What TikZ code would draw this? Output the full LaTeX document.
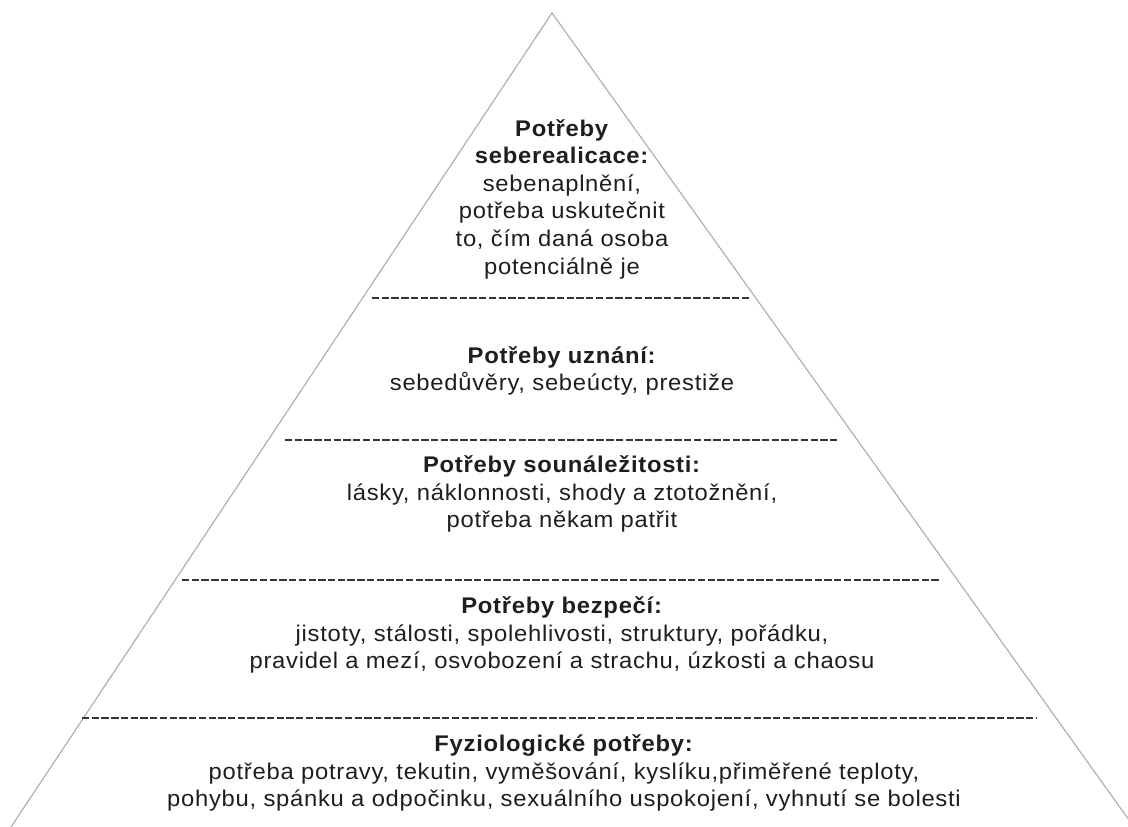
\documentclass[tikz,border=0pt]{standalone}
\usepackage{fontspec}
\setmainfont[FakeStretch=1.05,LetterSpace=3.2]{Liberation Sans}
\definecolor{inkgray}{HTML}{1E1E1E}
\definecolor{edgegray}{HTML}{A8A8A8}

\begin{document}
\begin{tikzpicture}[x=0.75pt,y=-0.75pt]
   \tikzset{Level/.style={align=center, inner sep=0pt, text=inkgray,
      font=\fontsize{17}{20.7}\selectfont}}
   \tikzset{Divider/.style={draw=inkgray!90, line width=1.6pt,
      dash pattern=on 5.5pt off 1.8pt}}
   \useasboundingbox (0,0) rectangle (1128,827);
   % pyramid outline
   \coordinate (top) at (552,13);
   \coordinate (bl) at (11,827);
   \coordinate (br) at (1134,827);
   \draw[edgegray, line width=0.8pt] (bl) -- (top) -- (br);
   % levels
   \node[Level] (self) at (562,199) {\textbf{Potřeby}\\\textbf{seberealicace:}\\sebenaplnění,\\potřeba uskutečnit\\to, čím daná osoba\\potenciálně je};
   \node[Level] (esteem) at (562,371) {\textbf{Potřeby uznání:}\\sebedůvěry, sebeúcty, prestiže};
   \node[Level] (belong) at (562,494) {\textbf{Potřeby sounáležitosti:}\\lásky, náklonnosti, shody a ztotožnění,\\potřeba někam patřit};
   \node[Level] (safety) at (562,635) {\textbf{Potřeby bezpečí:}\\jistoty, stálosti, spolehlivosti, struktury, pořádku,\\pravidel a mezí, osvobození a strachu, úzkosti a chaosu};
   \node[Level] (body) at (564,773) {\textbf{Fyziologické potřeby:}\\potřeba potravy, tekutin, vyměšování, kyslíku,přiměřené teploty,\\pohybu, spánku a odpočinku, sexuálního uspokojení, vyhnutí se bolesti};
   % dividers
   \coordinate (d1a) at (372,298); \coordinate (d1b) at (750,298);
   \coordinate (d2a) at (285,440); \coordinate (d2b) at (837,440);
   \coordinate (d3a) at (182,580); \coordinate (d3b) at (940,580);
   \coordinate (d4a) at (82,718);  \coordinate (d4b) at (1036,718);
   \draw[Divider] (d1a) -- (d1b);
   \draw[Divider] (d2a) -- (d2b);
   \draw[Divider] (d3a) -- (d3b);
   \draw[Divider] (d4a) -- (d4b);
\end{tikzpicture}
\end{document}
